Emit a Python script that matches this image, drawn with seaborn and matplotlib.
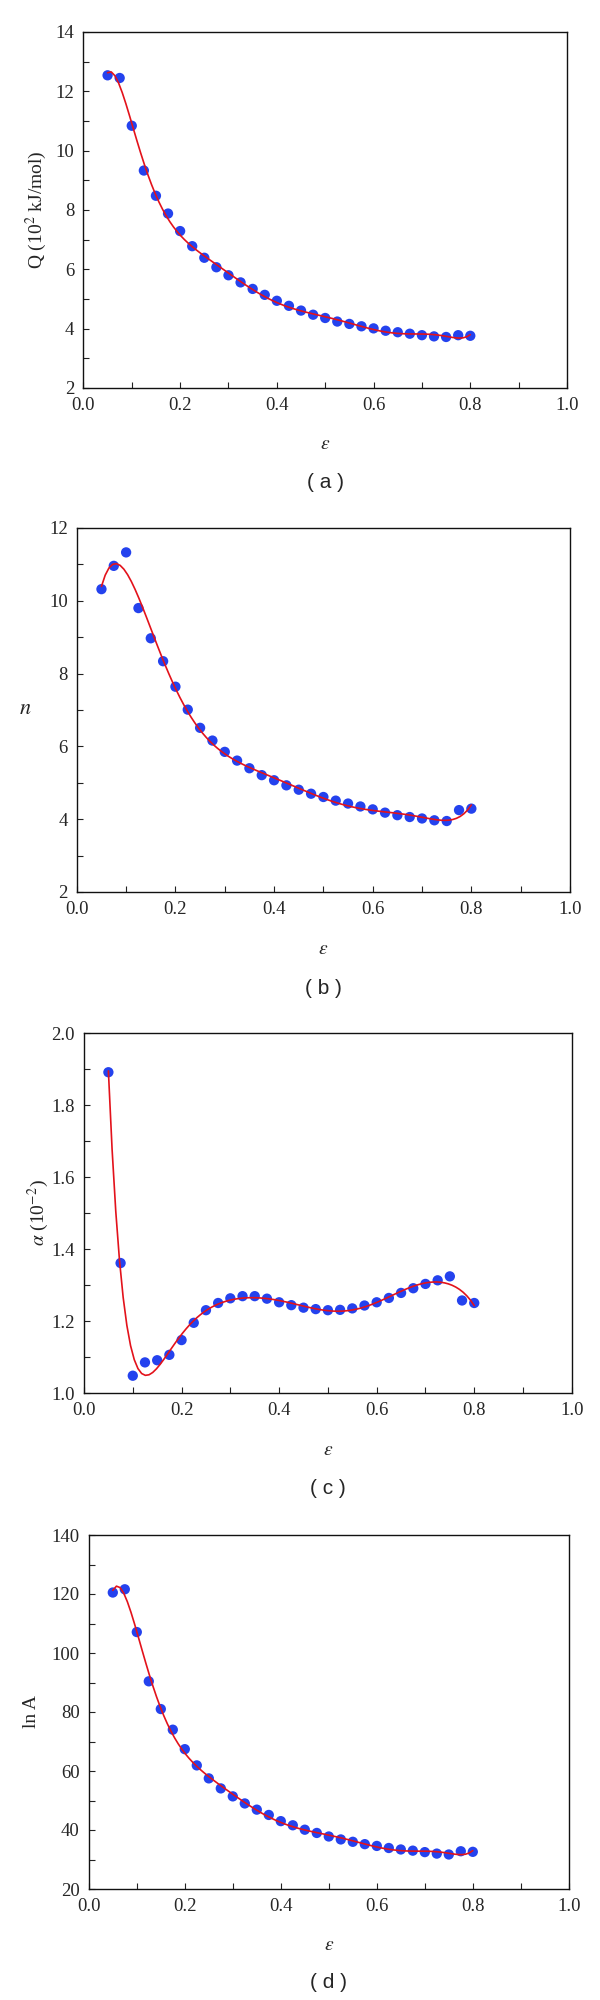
import numpy as np
import matplotlib
matplotlib.use("Agg")
import matplotlib.pyplot as plt
import seaborn as sns

# =============================================================================
# Data
# =============================================================================
strain = [0.05, 0.075, 0.1, 0.125, 0.15, 0.175, 0.2, 0.225, 0.25, 0.275,
          0.3, 0.325, 0.35, 0.375, 0.4, 0.425, 0.45, 0.475, 0.5, 0.525,
          0.55, 0.575, 0.6, 0.625, 0.65, 0.675, 0.7, 0.725, 0.75, 0.775, 0.8]

q_vals = [12.54, 12.45, 10.84, 9.33, 8.48, 7.88, 7.29, 6.78, 6.39, 6.07,
          5.80, 5.56, 5.34, 5.14, 4.94, 4.77, 4.61, 4.47, 4.36, 4.24,
          4.16, 4.08, 4.01, 3.93, 3.88, 3.83, 3.78, 3.74, 3.72, 3.78, 3.76]

n_vals = [10.32, 10.96, 11.33, 9.80, 8.97, 8.34, 7.64, 7.01, 6.51, 6.16,
          5.85, 5.61, 5.40, 5.21, 5.07, 4.93, 4.81, 4.70, 4.61, 4.51,
          4.43, 4.35, 4.27, 4.18, 4.11, 4.06, 4.02, 3.97, 3.95, 4.25, 4.29]

alpha_vals = [1.891, 1.361, 1.048, 1.085, 1.091, 1.106, 1.147, 1.195, 1.230, 1.250,
              1.263, 1.269, 1.269, 1.262, 1.252, 1.244, 1.237, 1.233, 1.230, 1.231,
              1.235, 1.243, 1.252, 1.264, 1.278, 1.291, 1.303, 1.313, 1.324, 1.257, 1.250]

lnA_vals = [120.5, 121.6, 107.1, 90.4, 81.0, 74.0, 67.4, 61.9, 57.5, 54.1,
            51.4, 49.0, 46.9, 45.1, 43.0, 41.6, 40.1, 39.0, 37.8, 36.8,
            36.0, 35.2, 34.6, 33.9, 33.4, 33.0, 32.5, 32.0, 31.7, 32.8, 32.6]

panel_tags = ['( a )', '( b )', '( c )', '( d )']
y_labels = ['Q (10$^2$ kJ/mol)', '$n$', '$\\alpha$ (10$^{-2}$)', 'ln A']
y_limits = [(2, 14), (2, 12), (1.0, 2.0), (20, 140)]
y_major = [2, 2, 0.2, 20]
fit_order = [9, 7, 9, 9]

# =============================================================================
# Plot
# =============================================================================
sns.set_style('ticks')
plt.rcParams['font.family'] = ['Liberation Serif', 'DejaVu Serif']
plt.rcParams['mathtext.fontset'] = 'stix'

fig = plt.figure(figsize=(6, 20), dpi=100)
boxes = [[0.139, 0.806, 0.806, 0.178],
         [0.128, 0.554, 0.822, 0.182],
         [0.140, 0.3035, 0.813, 0.180],
         [0.148, 0.0555, 0.800, 0.177]]
ylab_x = [-0.098, -0.105, -0.094, -0.12]

series = [q_vals, n_vals, alpha_vals, lnA_vals]
for i, vals in enumerate(series):
    ax = fig.add_axes(boxes[i])
    sns.regplot(x=np.array(strain), y=np.array(vals), order=fit_order[i], ci=None, ax=ax,
                scatter_kws={'s': 55, 'color': '#2442ee', 'edgecolor': 'none', 'alpha': 1, 'zorder': 2},
                line_kws={'color': '#e3121b', 'lw': 1.2, 'zorder': 3})
    ax.set_xlim(0, 1.0)
    ax.set_ylim(*y_limits[i])
    ax.set_xticks(np.arange(0, 1.01, 0.2))
    ax.set_xticks(np.arange(0, 1.01, 0.1), minor=True)
    lo, hi = y_limits[i]
    ax.set_yticks(np.arange(lo, hi + 1e-9, y_major[i]))
    ax.set_yticks(np.arange(lo, hi + 1e-9, y_major[i] / 2), minor=True)
    ax.xaxis.set_major_formatter(matplotlib.ticker.FormatStrFormatter('%.1f'))
    if i == 2:
        ax.yaxis.set_major_formatter(matplotlib.ticker.FormatStrFormatter('%.1f'))
    else:
        ax.yaxis.set_major_formatter(matplotlib.ticker.FormatStrFormatter('%d'))
    ax.tick_params(which='both', direction='in', top=False, right=False,
                   labelsize=13.5, width=0.8, length=4, color='#222222', pad=6.5)
    for sp in ax.spines.values():
        sp.set_linewidth(1.0)
        sp.set_color('#111111')
    ax.set_xlabel('$\\varepsilon$', fontsize=14)
    ax.xaxis.set_label_coords(0.5, -0.135)
    if i == 1:
        ax.set_ylabel(y_labels[i], fontsize=16, rotation=0, va='center', ha='center')
    else:
        ax.set_ylabel(y_labels[i], fontsize=14, va='center')
    ax.yaxis.set_label_coords(ylab_x[i], 0.5)
    ax.text(0.5, -0.265, panel_tags[i], transform=ax.transAxes, ha='center', va='center',
            fontsize=15, family=['Liberation Sans', 'DejaVu Sans'])

plt.savefig('out.png', dpi=100)
